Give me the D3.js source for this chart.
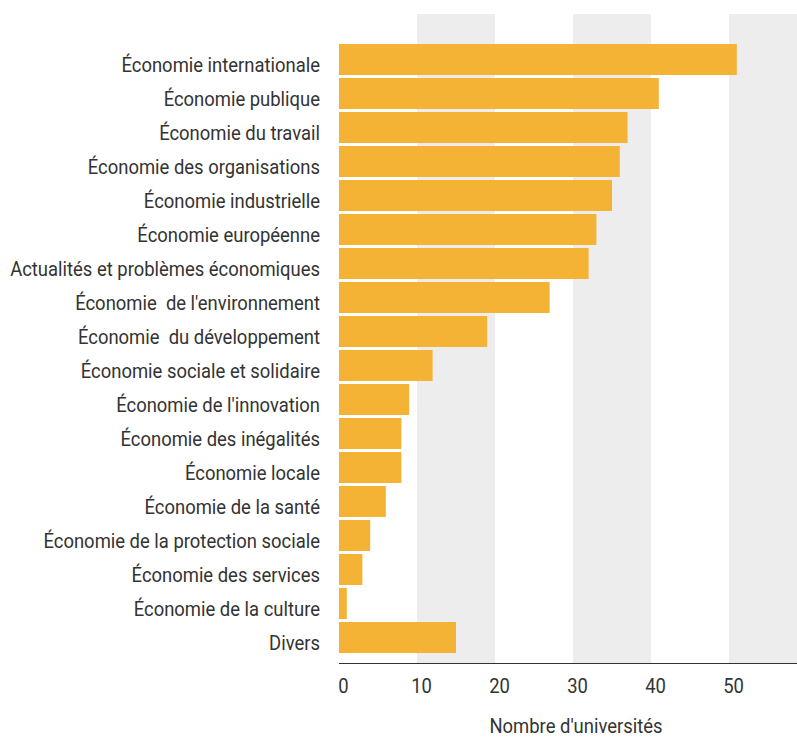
<!DOCTYPE html>
<html><head><meta charset="utf-8">
<script src="https://cdn.jsdelivr.net/npm/d3@7"></script>
<style>body{margin:0;background:#fff}svg{display:block}</style>
</head><body><svg id="c" width="797" height="738"></svg>
<script>
const categories = ["Économie internationale","Économie publique","Économie du travail","Économie des organisations","Économie industrielle","Économie européenne","Actualités et problèmes économiques","Économie  de l'environnement","Économie  du développement","Économie sociale et solidaire","Économie de l'innovation","Économie des inégalités","Économie locale","Économie de la santé","Économie de la protection sociale","Économie des services","Économie de la culture","Divers"];
const values = [51,41,37,36,35,33,32,27,19,12,9,8,8,6,4,3,1,15];
const tickValues = [0,10,20,30,40,50];
const bandStarts = [10,30,50];
const axisTitle = "Nombre d'universités";

const svg = d3.select("#c");
const font = "'Roboto',sans-serif";
const fs = 21;
const x = d3.scaleLinear().domain([0,58.72]).range([339,797]);
const y = d3.scaleBand().domain(categories).range([42.5,42.5+34*18]).paddingInner(3/34).paddingOuter(1.5/34);

// grey bands
svg.append("g").selectAll("rect").data(bandStarts).join("rect")
  .attr("x",d=>x(d)).attr("y",14)
  .attr("width",d=>Math.min(x(d+10),797)-x(d)).attr("height",663-14)
  .attr("fill","#ededed");

// bars
svg.append("g").selectAll("rect").data(values).join("rect")
  .attr("x",x(0)).attr("y",(d,i)=>y(categories[i]))
  .attr("width",d=>x(d)-x(0)).attr("height",y.bandwidth())
  .attr("fill","#f5b335");

// labels (condensed by horizontal scale)
const lab = svg.append("g").selectAll("text").data(categories).join("text")
  .attr("text-anchor","end").attr("fill","#333")
  .style("font-family",font).style("font-size",fs+"px").style("white-space","pre")
  .text(d=>d);
const longest = lab.filter(d=>d.startsWith("Actualités")).node().getComputedTextLength();
const sx = 310/longest;
lab.attr("transform",d=>`translate(320,${y(d)+y.bandwidth()-3}) scale(${sx},1)`);

// axis
const ax = svg.append("g").attr("transform","translate(0,663.5)")
  .call(d3.axisBottom(x).tickValues(tickValues).tickSize(0).tickPadding(0).tickFormat(d3.format("d")));
ax.select(".domain").attr("stroke","#333").attr("stroke-width",1.2)
  .attr("d",`M${x(0)},0H797`);
ax.selectAll(".tick text").attr("x",0).attr("y",0).attr("dy",0)
  .attr("transform",`translate(4,29.5) scale(${sx},1)`)
  .attr("fill","#333").style("font-family",font).style("font-size",fs+"px");

svg.append("text").attr("text-anchor","middle")
  .attr("transform",`translate(576,733) scale(${sx},1)`)
  .attr("fill","#333").style("font-family",font).style("font-size",fs+"px")
  .text(axisTitle);
</script></body></html>
